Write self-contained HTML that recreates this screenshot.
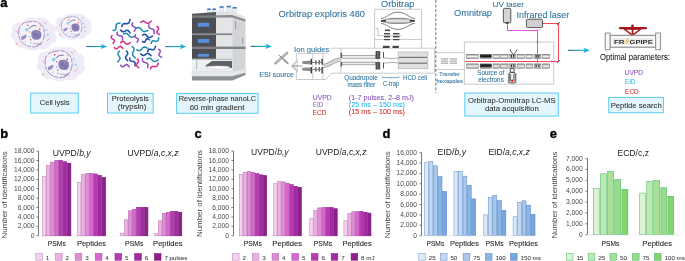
<!DOCTYPE html>
<html><head><meta charset="utf-8"><title>Figure</title>
<style>
html,body{margin:0;padding:0;background:#fff;width:685px;height:261px;overflow:hidden}
svg{display:block;will-change:transform;font-family:"Liberation Sans", sans-serif}
</style></head><body>
<svg width="685" height="261" viewBox="0 0 685 261">
<defs>
<linearGradient id="ag" x1="0" x2="1" y1="0" y2="0"><stop offset="0" stop-color="#1d6f8f"/><stop offset="1" stop-color="#19b2e6"/></linearGradient>
<linearGradient id="gl" x1="0" x2="0" y1="0" y2="1"><stop offset="0" stop-color="#8a8a8a"/><stop offset="0.5" stop-color="#f4f4f4"/><stop offset="1" stop-color="#9a9a9a"/></linearGradient>
<linearGradient id="gd" x1="0" x2="0" y1="0" y2="1"><stop offset="0" stop-color="#444"/><stop offset="0.5" stop-color="#111"/><stop offset="1" stop-color="#bbb"/></linearGradient>
<linearGradient id="gm" x1="0" x2="0" y1="0" y2="1"><stop offset="0" stop-color="#666"/><stop offset="0.5" stop-color="#333"/><stop offset="1" stop-color="#aaa"/></linearGradient>
<linearGradient id="gs" x1="0" x2="0" y1="0" y2="1"><stop offset="0" stop-color="#999"/><stop offset="0.5" stop-color="#f2f2f2"/><stop offset="1" stop-color="#999"/></linearGradient>
</defs>
<text x="0.2" y="6.7" font-size="13" fill="#000" stroke="#000" stroke-width="0.35" font-weight="bold">a</text>
<g transform="translate(33.8,33.8) scale(1.0)"><path d="M-21,-3 C-24,-9 -17,-13 -11,-12 C-8,-17 -1,-17 3,-15 C8,-18 15,-15 16,-10 C22,-10 24,-4 21,0 C25,4 22,10 17,10 C16,15 9,17 5,15 C1,18 -6,17 -9,14 C-14,16 -20,12 -19,7 C-24,5 -24,0 -21,-3 Z" fill="#f0ecf7"/><path d="M-15,-1 C-16,-8 -10,-12 -4,-12 C2,-14 9,-10 10,-4 C12,2 9,10 3,12.5 C-3,14.5 -12,11 -14,5 C-15,3 -15,1 -15,-1 Z" fill="#f4f1f9" stroke="#8576b6" stroke-width="0.75" stroke-dasharray="7 1.2 4 1"/><path d="M-2.5,1 C-3,-3 0,-4 3,-3.8 C6.5,-3.6 8,-1 7.6,2 C7.4,5 5,6.2 2,6 C-1,5.8 -2.3,4 -2.5,1 Z" fill="#8b80b4"/><circle cx="1.5" cy="0.5" r="1.6" fill="#6a5e98" opacity="0.5"/><circle cx="4.5" cy="3" r="1.3" fill="#6a5e98" opacity="0.4"/><circle cx="3.5" cy="-1.5" r="0.9" fill="#9d92c4"/><path d="M-5,-5 C-3,-8 0,-8.5 2.5,-8" stroke="#4e4180" stroke-width="0.8" fill="none"/><path d="M-12.8,3.2 L-8,0.8 L-7,2.2 L-8.5,4.6 L-12,6.4 Z" fill="#a596c8"/><path d="M-12.5,4 l4.5,-2.2 M-12,5.6 l4,-2" stroke="#8e7cb8" stroke-width="0.5"/><path d="M-1,9.5 C2,10.5 5,10.5 7,9" stroke="#8e7cb8" stroke-width="0.6" fill="none"/><circle cx="-7" cy="-4" r="1.7" fill="#8ed2ef"/><circle cx="-4" cy="3" r="0.9" fill="#8ed2ef"/><circle cx="14" cy="1" r="1.1" fill="#8ed2ef"/><circle cx="-3" cy="9" r="0.8" fill="#8ed2ef"/><circle cx="-8" cy="8" r="0.6" fill="#8ed2ef"/><circle cx="-6" cy="-8.5" r="0.75" fill="#e0483c"/><circle cx="6" cy="-4.5" r="0.8" fill="#e0483c"/><circle cx="-3" cy="6" r="0.7" fill="#e0483c"/><circle cx="6.5" cy="-8" r="1.1" fill="#f4c2b4"/><circle cx="-4" cy="-2" r="0.6" fill="#e0483c"/><circle cx="-17" cy="10" r="1.0" fill="#f2b0a0"/><circle cx="10" cy="-11" r="0.5" fill="#e88a9a"/><path d="M11,-10 L13,-12" stroke="#eea0ac" stroke-width="0.9" stroke-linecap="round"/><path d="M-18,-3 L-16,-1" stroke="#eea0ac" stroke-width="0.9" stroke-linecap="round"/><path d="M13,7 L15.5,5" stroke="#eea0ac" stroke-width="0.9" stroke-linecap="round"/><path d="M11,-5 L13.5,-3.5" stroke="#8ed2ef" stroke-width="0.9" stroke-linecap="round"/><path d="M3.5,11.5 L7,10.5" stroke="#9a86c0" stroke-width="0.9" stroke-linecap="round"/><path d="M-9,-11 L-7,-12" stroke="#eea0ac" stroke-width="0.9" stroke-linecap="round"/></g>
<g transform="translate(73.5,26.6) scale(0.8)"><path d="M-21,-3 C-24,-9 -17,-13 -11,-12 C-8,-17 -1,-17 3,-15 C8,-18 15,-15 16,-10 C22,-10 24,-4 21,0 C25,4 22,10 17,10 C16,15 9,17 5,15 C1,18 -6,17 -9,14 C-14,16 -20,12 -19,7 C-24,5 -24,0 -21,-3 Z" fill="#f0ecf7"/><path d="M-15,-1 C-16,-8 -10,-12 -4,-12 C2,-14 9,-10 10,-4 C12,2 9,10 3,12.5 C-3,14.5 -12,11 -14,5 C-15,3 -15,1 -15,-1 Z" fill="#f4f1f9" stroke="#8576b6" stroke-width="0.75" stroke-dasharray="7 1.2 4 1"/><path d="M-2.5,1 C-3,-3 0,-4 3,-3.8 C6.5,-3.6 8,-1 7.6,2 C7.4,5 5,6.2 2,6 C-1,5.8 -2.3,4 -2.5,1 Z" fill="#8b80b4"/><circle cx="1.5" cy="0.5" r="1.6" fill="#6a5e98" opacity="0.5"/><circle cx="4.5" cy="3" r="1.3" fill="#6a5e98" opacity="0.4"/><circle cx="3.5" cy="-1.5" r="0.9" fill="#9d92c4"/><path d="M-5,-5 C-3,-8 0,-8.5 2.5,-8" stroke="#4e4180" stroke-width="0.8" fill="none"/><path d="M-12.8,3.2 L-8,0.8 L-7,2.2 L-8.5,4.6 L-12,6.4 Z" fill="#a596c8"/><path d="M-12.5,4 l4.5,-2.2 M-12,5.6 l4,-2" stroke="#8e7cb8" stroke-width="0.5"/><path d="M-1,9.5 C2,10.5 5,10.5 7,9" stroke="#8e7cb8" stroke-width="0.6" fill="none"/><circle cx="-7" cy="-4" r="1.7" fill="#8ed2ef"/><circle cx="-4" cy="3" r="0.9" fill="#8ed2ef"/><circle cx="14" cy="1" r="1.1" fill="#8ed2ef"/><circle cx="-3" cy="9" r="0.8" fill="#8ed2ef"/><circle cx="-8" cy="8" r="0.6" fill="#8ed2ef"/><circle cx="-6" cy="-8.5" r="0.75" fill="#e0483c"/><circle cx="6" cy="-4.5" r="0.8" fill="#e0483c"/><circle cx="-3" cy="6" r="0.7" fill="#e0483c"/><circle cx="6.5" cy="-8" r="1.1" fill="#f4c2b4"/><circle cx="-4" cy="-2" r="0.6" fill="#e0483c"/><circle cx="-17" cy="10" r="1.0" fill="#f2b0a0"/><circle cx="10" cy="-11" r="0.5" fill="#e88a9a"/><path d="M11,-10 L13,-12" stroke="#eea0ac" stroke-width="0.9" stroke-linecap="round"/><path d="M-18,-3 L-16,-1" stroke="#eea0ac" stroke-width="0.9" stroke-linecap="round"/><path d="M13,7 L15.5,5" stroke="#eea0ac" stroke-width="0.9" stroke-linecap="round"/><path d="M11,-5 L13.5,-3.5" stroke="#8ed2ef" stroke-width="0.9" stroke-linecap="round"/><path d="M3.5,11.5 L7,10.5" stroke="#9a86c0" stroke-width="0.9" stroke-linecap="round"/><path d="M-9,-11 L-7,-12" stroke="#eea0ac" stroke-width="0.9" stroke-linecap="round"/></g>
<g transform="translate(61.0,63.8) scale(1.05)"><path d="M-21,-3 C-24,-9 -17,-13 -11,-12 C-8,-17 -1,-17 3,-15 C8,-18 15,-15 16,-10 C22,-10 24,-4 21,0 C25,4 22,10 17,10 C16,15 9,17 5,15 C1,18 -6,17 -9,14 C-14,16 -20,12 -19,7 C-24,5 -24,0 -21,-3 Z" fill="#f0ecf7"/><path d="M-15,-1 C-16,-8 -10,-12 -4,-12 C2,-14 9,-10 10,-4 C12,2 9,10 3,12.5 C-3,14.5 -12,11 -14,5 C-15,3 -15,1 -15,-1 Z" fill="#f4f1f9" stroke="#8576b6" stroke-width="0.75" stroke-dasharray="7 1.2 4 1"/><path d="M-2.5,1 C-3,-3 0,-4 3,-3.8 C6.5,-3.6 8,-1 7.6,2 C7.4,5 5,6.2 2,6 C-1,5.8 -2.3,4 -2.5,1 Z" fill="#8b80b4"/><circle cx="1.5" cy="0.5" r="1.6" fill="#6a5e98" opacity="0.5"/><circle cx="4.5" cy="3" r="1.3" fill="#6a5e98" opacity="0.4"/><circle cx="3.5" cy="-1.5" r="0.9" fill="#9d92c4"/><path d="M-5,-5 C-3,-8 0,-8.5 2.5,-8" stroke="#4e4180" stroke-width="0.8" fill="none"/><path d="M-12.8,3.2 L-8,0.8 L-7,2.2 L-8.5,4.6 L-12,6.4 Z" fill="#a596c8"/><path d="M-12.5,4 l4.5,-2.2 M-12,5.6 l4,-2" stroke="#8e7cb8" stroke-width="0.5"/><path d="M-1,9.5 C2,10.5 5,10.5 7,9" stroke="#8e7cb8" stroke-width="0.6" fill="none"/><circle cx="-7" cy="-4" r="1.7" fill="#8ed2ef"/><circle cx="-4" cy="3" r="0.9" fill="#8ed2ef"/><circle cx="14" cy="1" r="1.1" fill="#8ed2ef"/><circle cx="-3" cy="9" r="0.8" fill="#8ed2ef"/><circle cx="-8" cy="8" r="0.6" fill="#8ed2ef"/><circle cx="-6" cy="-8.5" r="0.75" fill="#e0483c"/><circle cx="6" cy="-4.5" r="0.8" fill="#e0483c"/><circle cx="-3" cy="6" r="0.7" fill="#e0483c"/><circle cx="6.5" cy="-8" r="1.1" fill="#f4c2b4"/><circle cx="-4" cy="-2" r="0.6" fill="#e0483c"/><circle cx="-17" cy="10" r="1.0" fill="#f2b0a0"/><circle cx="10" cy="-11" r="0.5" fill="#e88a9a"/><path d="M11,-10 L13,-12" stroke="#eea0ac" stroke-width="0.9" stroke-linecap="round"/><path d="M-18,-3 L-16,-1" stroke="#eea0ac" stroke-width="0.9" stroke-linecap="round"/><path d="M13,7 L15.5,5" stroke="#eea0ac" stroke-width="0.9" stroke-linecap="round"/><path d="M11,-5 L13.5,-3.5" stroke="#8ed2ef" stroke-width="0.9" stroke-linecap="round"/><path d="M3.5,11.5 L7,10.5" stroke="#9a86c0" stroke-width="0.9" stroke-linecap="round"/><path d="M-9,-11 L-7,-12" stroke="#eea0ac" stroke-width="0.9" stroke-linecap="round"/></g>
<rect x="86.1" y="45.95" width="16.10000000000001" height="1.1" fill="url(#ag)"/>
<path d="M100.7,43.9 L107.2,46.5 L100.7,49.1 L102.0,46.5 Z" fill="#1aaee0"/>
<rect x="165.2" y="46.050000000000004" width="16.200000000000017" height="1.1" fill="url(#ag)"/>
<path d="M179.9,44.0 L186.4,46.6 L179.9,49.2 L181.20000000000002,46.6 Z" fill="#1aaee0"/>
<rect x="250.5" y="45.85" width="16.399999999999977" height="1.1" fill="url(#ag)"/>
<path d="M265.4,43.8 L271.9,46.4 L265.4,49.0 L266.7,46.4 Z" fill="#1aaee0"/>
<rect x="568" y="49.75" width="16.899999999999977" height="1.1" fill="url(#ag)"/>
<path d="M583.4,47.699999999999996 L589.9,50.3 L583.4,52.9 L584.6999999999999,50.3 Z" fill="#1aaee0"/>
<path d="M113.20,30.50 L114.00,30.32 L114.73,30.09 L115.33,29.74 L115.74,29.26 L115.99,28.64 L116.08,27.90 L116.07,27.09 L116.05,26.26 L116.08,25.48 L116.23,24.79 L116.55,24.23 L117.05,23.81 L117.71,23.52 L118.48,23.32 L119.30,23.15 L120.08,22.95" stroke="#2a8db5" stroke-width="1.6" fill="none" stroke-linecap="round" stroke-linejoin="round"/>
<path d="M121.80,26.50 L122.03,25.68 L122.31,24.95 L122.70,24.35 L123.22,23.93 L123.87,23.69 L124.64,23.61 L125.48,23.63 L126.33,23.66 L127.14,23.64 L127.86,23.49 L128.45,23.18 L128.91,22.67 L129.24,22.01 L129.50,21.22 L129.72,20.40 L129.97,19.61" stroke="#2252a8" stroke-width="1.6" fill="none" stroke-linecap="round" stroke-linejoin="round"/>
<path d="M132.70,23.00 L132.34,23.64 L132.07,24.26 L131.98,24.83 L132.09,25.34 L132.42,25.79 L132.93,26.18 L133.57,26.54 L134.22,26.89 L134.81,27.27 L135.25,27.68 L135.48,28.15 L135.50,28.69 L135.31,29.29 L134.99,29.92 L134.62,30.57 L134.29,31.20" stroke="#9555c0" stroke-width="1.6" fill="none" stroke-linecap="round" stroke-linejoin="round"/>
<path d="M140.80,22.50 L141.42,21.94 L142.05,21.48 L142.68,21.19 L143.33,21.12 L143.99,21.27 L144.66,21.62 L145.34,22.09 L146.02,22.59 L146.70,23.01 L147.37,23.28 L148.02,23.33 L148.66,23.16 L149.29,22.79 L149.92,22.27 L150.54,21.69 L151.16,21.17" stroke="#d8358e" stroke-width="1.6" fill="none" stroke-linecap="round" stroke-linejoin="round"/>
<path d="M148.90,24.80 L148.82,25.63 L148.82,26.40 L148.97,27.08 L149.30,27.63 L149.81,28.06 L150.49,28.39 L151.27,28.64 L152.07,28.89 L152.81,29.17 L153.43,29.54 L153.86,30.02 L154.10,30.63 L154.18,31.36 L154.13,32.16 L154.04,33.00 L153.99,33.81" stroke="#9555c0" stroke-width="1.6" fill="none" stroke-linecap="round" stroke-linejoin="round"/>
<path d="M156.90,26.50 L157.52,26.90 L158.04,27.32 L158.40,27.77 L158.53,28.27 L158.45,28.82 L158.18,29.40 L157.79,30.01 L157.37,30.63 L157.03,31.23 L156.83,31.80 L156.85,32.33 L157.08,32.80 L157.52,33.24 L158.10,33.65 L158.73,34.04 L159.32,34.45" stroke="#d8358e" stroke-width="1.6" fill="none" stroke-linecap="round" stroke-linejoin="round"/>
<path d="M120.70,30.00 L121.19,30.65 L121.69,31.21 L122.24,31.60 L122.84,31.78 L123.49,31.73 L124.19,31.50 L124.91,31.15 L125.64,30.77 L126.35,30.47 L127.03,30.31 L127.66,30.37 L128.23,30.64 L128.76,31.12 L129.25,31.73 L129.74,32.39 L130.23,33.01" stroke="#2252a8" stroke-width="1.6" fill="none" stroke-linecap="round" stroke-linejoin="round"/>
<path d="M136.20,28.20 L137.05,27.87 L137.87,27.64 L138.65,27.58 L139.38,27.73 L140.05,28.10 L140.67,28.65 L141.27,29.33 L141.86,30.02 L142.46,30.65 L143.11,31.13 L143.80,31.40 L144.55,31.45 L145.35,31.31 L146.19,31.02 L147.04,30.68 L147.88,30.39" stroke="#2a8db5" stroke-width="1.6" fill="none" stroke-linecap="round" stroke-linejoin="round"/>
<path d="M117.20,32.30 L117.15,33.09 L117.18,33.81 L117.34,34.43 L117.68,34.91 L118.19,35.25 L118.86,35.48 L119.62,35.63 L120.40,35.76 L121.13,35.94 L121.73,36.21 L122.17,36.62 L122.43,37.16 L122.52,37.84 L122.50,38.59 L122.45,39.39 L122.42,40.15" stroke="#9555c0" stroke-width="1.6" fill="none" stroke-linecap="round" stroke-linejoin="round"/>
<path d="M123.50,34.00 L124.35,33.67 L125.17,33.44 L125.95,33.38 L126.68,33.53 L127.35,33.90 L127.97,34.45 L128.57,35.13 L129.16,35.82 L129.76,36.45 L130.41,36.93 L131.10,37.20 L131.85,37.25 L132.65,37.11 L133.49,36.82 L134.34,36.48 L135.18,36.19" stroke="#2a8db5" stroke-width="1.6" fill="none" stroke-linecap="round" stroke-linejoin="round"/>
<path d="M135.60,34.60 L135.24,35.22 L134.98,35.81 L134.88,36.34 L135.00,36.82 L135.33,37.22 L135.84,37.57 L136.47,37.88 L137.12,38.19 L137.70,38.51 L138.14,38.88 L138.37,39.32 L138.39,39.82 L138.21,40.38 L137.89,40.99 L137.52,41.61 L137.20,42.22" stroke="#9555c0" stroke-width="1.6" fill="none" stroke-linecap="round" stroke-linejoin="round"/>
<path d="M142.50,35.10 L143.21,34.70 L143.90,34.39 L144.55,34.25 L145.17,34.34 L145.75,34.64 L146.29,35.13 L146.81,35.74 L147.33,36.38 L147.86,36.95 L148.42,37.36 L149.01,37.57 L149.65,37.55 L150.32,37.32 L151.02,36.96 L151.73,36.55 L152.43,36.18" stroke="#2252a8" stroke-width="1.6" fill="none" stroke-linecap="round" stroke-linejoin="round"/>
<path d="M112.00,35.70 L111.60,36.29 L111.30,36.86 L111.17,37.39 L111.25,37.86 L111.55,38.29 L112.04,38.66 L112.64,39.02 L113.28,39.36 L113.84,39.72 L114.25,40.12 L114.45,40.56 L114.43,41.07 L114.21,41.61 L113.86,42.19 L113.45,42.79 L113.09,43.37" stroke="#d8358e" stroke-width="1.6" fill="none" stroke-linecap="round" stroke-linejoin="round"/>
<path d="M120.70,42.60 L121.34,42.12 L121.97,41.73 L122.59,41.51 L123.20,41.52 L123.80,41.75 L124.38,42.17 L124.95,42.72 L125.53,43.29 L126.10,43.78 L126.69,44.13 L127.29,44.26 L127.91,44.16 L128.53,43.86 L129.17,43.42 L129.81,42.92 L130.45,42.47" stroke="#d8358e" stroke-width="1.6" fill="none" stroke-linecap="round" stroke-linejoin="round"/>
<path d="M142.50,41.50 L143.10,41.85 L143.66,42.11 L144.17,42.21 L144.62,42.10 L144.98,41.77 L145.29,41.26 L145.57,40.63 L145.83,39.98 L146.11,39.40 L146.45,38.97 L146.85,38.73 L147.32,38.72 L147.86,38.90 L148.45,39.21 L149.05,39.58 L149.63,39.90" stroke="#2252a8" stroke-width="1.6" fill="none" stroke-linecap="round" stroke-linejoin="round"/>
<path d="M151.20,43.20 L151.44,42.46 L151.73,41.80 L152.10,41.29 L152.58,40.98 L153.18,40.86 L153.87,40.91 L154.63,41.06 L155.39,41.23 L156.12,41.35 L156.78,41.33 L157.32,41.12 L157.76,40.72 L158.09,40.13 L158.35,39.43 L158.58,38.68 L158.83,37.96" stroke="#2a8db5" stroke-width="1.6" fill="none" stroke-linecap="round" stroke-linejoin="round"/>
<path d="M114.30,47.60 L114.84,48.12 L115.39,48.55 L115.93,48.80 L116.47,48.83 L117.02,48.64 L117.56,48.25 L118.11,47.75 L118.65,47.21 L119.19,46.75 L119.74,46.45 L120.28,46.35 L120.83,46.49 L121.37,46.83 L121.91,47.31 L122.46,47.84 L123.00,48.33" stroke="#d8358e" stroke-width="1.6" fill="none" stroke-linecap="round" stroke-linejoin="round"/>
<path d="M132.20,46.50 L132.86,47.12 L133.42,47.75 L133.81,48.42 L133.99,49.13 L133.94,49.89 L133.70,50.68 L133.35,51.50 L132.97,52.33 L132.66,53.14 L132.51,53.91 L132.56,54.65 L132.83,55.34 L133.31,56.00 L133.93,56.62 L134.60,57.23 L135.22,57.86" stroke="#2a8db5" stroke-width="1.6" fill="none" stroke-linecap="round" stroke-linejoin="round"/>
<path d="M136.80,49.90 L137.59,50.27 L138.36,50.54 L139.09,50.65 L139.78,50.53 L140.42,50.20 L141.02,49.68 L141.60,49.04 L142.17,48.37 L142.76,47.78 L143.37,47.33 L144.04,47.10 L144.75,47.09 L145.50,47.27 L146.28,47.60 L147.07,47.98 L147.85,48.32" stroke="#2a8db5" stroke-width="1.6" fill="none" stroke-linecap="round" stroke-linejoin="round"/>
<path d="M147.70,51.60 L147.95,50.86 L148.24,50.20 L148.62,49.69 L149.12,49.38 L149.72,49.26 L150.41,49.31 L151.17,49.46 L151.94,49.64 L152.68,49.75 L153.33,49.73 L153.89,49.52 L154.33,49.12 L154.66,48.54 L154.93,47.83 L155.17,47.08 L155.44,46.36" stroke="#2252a8" stroke-width="1.6" fill="none" stroke-linecap="round" stroke-linejoin="round"/>
<path d="M119.50,51.00 L118.91,51.64 L118.42,52.28 L118.10,52.94 L118.00,53.63 L118.12,54.33 L118.44,55.06 L118.87,55.80 L119.33,56.54 L119.73,57.27 L119.96,57.99 L119.99,58.69 L119.78,59.36 L119.38,60.01 L118.83,60.65 L118.23,61.29 L117.67,61.93" stroke="#2a8db5" stroke-width="1.6" fill="none" stroke-linecap="round" stroke-linejoin="round"/>
<path d="M126.40,51.00 L126.96,51.58 L127.42,52.17 L127.71,52.76 L127.78,53.37 L127.62,54.00 L127.28,54.64 L126.81,55.28 L126.31,55.92 L125.89,56.56 L125.62,57.20 L125.57,57.81 L125.74,58.42 L126.12,59.01 L126.63,59.59 L127.21,60.17 L127.73,60.76" stroke="#2252a8" stroke-width="1.6" fill="none" stroke-linecap="round" stroke-linejoin="round"/>
<path d="M140.80,53.90 L141.39,54.49 L142.00,54.98 L142.62,55.30 L143.27,55.40 L143.94,55.28 L144.63,54.96 L145.33,54.53 L146.04,54.07 L146.74,53.67 L147.42,53.44 L148.08,53.41 L148.72,53.62 L149.33,54.02 L149.93,54.57 L150.52,55.17 L151.12,55.73" stroke="#2252a8" stroke-width="1.6" fill="none" stroke-linecap="round" stroke-linejoin="round"/>
<path d="M158.60,49.30 L159.25,49.66 L159.80,50.05 L160.19,50.49 L160.36,50.99 L160.32,51.55 L160.09,52.16 L159.75,52.80 L159.38,53.46 L159.08,54.09 L158.93,54.68 L158.98,55.21 L159.25,55.68 L159.72,56.09 L160.33,56.47 L160.99,56.83 L161.61,57.20" stroke="#9555c0" stroke-width="1.6" fill="none" stroke-linecap="round" stroke-linejoin="round"/>
<path d="M129.90,58.00 L129.84,58.78 L129.86,59.51 L130.02,60.12 L130.35,60.60 L130.86,60.95 L131.52,61.17 L132.28,61.33 L133.06,61.46 L133.78,61.64 L134.38,61.92 L134.81,62.33 L135.06,62.87 L135.14,63.54 L135.12,64.30 L135.05,65.09 L135.02,65.85" stroke="#2252a8" stroke-width="1.6" fill="none" stroke-linecap="round" stroke-linejoin="round"/>
<path d="M137.30,59.10 L137.86,59.60 L138.32,60.11 L138.61,60.63 L138.68,61.16 L138.52,61.72 L138.18,62.28 L137.71,62.85 L137.21,63.43 L136.79,64.00 L136.52,64.56 L136.47,65.10 L136.64,65.63 L137.02,66.14 L137.53,66.65 L138.11,67.15 L138.63,67.65" stroke="#d8358e" stroke-width="1.6" fill="none" stroke-linecap="round" stroke-linejoin="round"/>
<path d="M142.50,58.50 L142.43,59.33 L142.43,60.11 L142.59,60.80 L142.92,61.36 L143.45,61.80 L144.13,62.12 L144.92,62.39 L145.72,62.64 L146.47,62.92 L147.09,63.30 L147.53,63.79 L147.78,64.41 L147.86,65.14 L147.82,65.95 L147.73,66.79 L147.69,67.61" stroke="#9555c0" stroke-width="1.6" fill="none" stroke-linecap="round" stroke-linejoin="round"/>
<path d="M147.10,59.10 L147.86,58.69 L148.61,58.37 L149.33,58.23 L150.02,58.31 L150.67,58.60 L151.29,59.09 L151.89,59.70 L152.49,60.33 L153.10,60.89 L153.73,61.30 L154.40,61.50 L155.10,61.48 L155.84,61.25 L156.59,60.88 L157.36,60.45 L158.11,60.07" stroke="#2a8db5" stroke-width="1.6" fill="none" stroke-linecap="round" stroke-linejoin="round"/>
<path d="M120.70,65.40 L121.20,65.96 L121.71,66.42 L122.23,66.71 L122.76,66.78 L123.32,66.62 L123.88,66.28 L124.45,65.81 L125.03,65.31 L125.60,64.89 L126.16,64.62 L126.70,64.57 L127.23,64.74 L127.74,65.12 L128.25,65.63 L128.75,66.21 L129.25,66.73" stroke="#9555c0" stroke-width="1.6" fill="none" stroke-linecap="round" stroke-linejoin="round"/>
<path d="M150.60,68.90 L150.81,68.14 L151.08,67.45 L151.44,66.92 L151.93,66.56 L152.53,66.40 L153.24,66.40 L154.02,66.50 L154.81,66.62 L155.56,66.69 L156.23,66.62 L156.78,66.37 L157.21,65.93 L157.52,65.32 L157.76,64.59 L157.97,63.82 L158.20,63.08" stroke="#d8358e" stroke-width="1.6" fill="none" stroke-linecap="round" stroke-linejoin="round"/>

<g>
<!-- bottles -->
<g fill="#e6eef4" stroke="#b9c9d6" stroke-width="0.3">
<rect x="207" y="9.6" width="4" height="3.2"/><rect x="212.2" y="9.6" width="4" height="3.2"/>
<rect x="219.4" y="7.6" width="4.5" height="4.4"/><rect x="226.5" y="7.1" width="4.7" height="4.9"/><rect x="232.3" y="8.3" width="4.6" height="5.2"/>
</g>
<g fill="#3d70b5">
<rect x="207.2" y="8.4" width="3.6" height="1.5" rx="0.4"/><rect x="212.4" y="8.4" width="3.6" height="1.5" rx="0.4"/>
<rect x="219.6" y="6.2" width="4.1" height="1.6" rx="0.4"/><rect x="226.7" y="5.7" width="4.3" height="1.6" rx="0.4"/><rect x="232.5" y="6.9" width="4.2" height="1.6" rx="0.4"/>
</g>
<!-- roof -->
<polygon points="192,13.8 216.2,12.1 216.2,17.8 192,17.8" fill="#55585d"/>
<polygon points="192,15.6 216.2,15.2 216.2,17.8 192,17.8" fill="#7a7d82"/>
<polygon points="216.2,11.5 232.3,11.5 245.5,17 245.5,19.5 232.3,15 216.2,15.2" fill="#e2e3e5"/>
<polygon points="216.2,15.2 232.3,15 245.5,19.5 245.5,22 232.3,17.8 216.2,17.8" fill="#8a8c90"/>
<!-- faces -->
<rect x="192" y="17.8" width="24.2" height="41" fill="#4b4e53"/>
<rect x="216.2" y="17.8" width="16.1" height="41" fill="#e4e5e7"/>
<polygon points="232.3,17.8 245.5,22 245.5,71 232.3,71" fill="#d3d4d7"/>
<!-- module gaps -->
<rect x="192" y="33.3" width="40.3" height="1.8" fill="#8a8c90"/>
<rect x="192" y="46.6" width="53.5" height="2.4" fill="#7d8085"/>
<rect x="192" y="58.8" width="40.3" height="1" fill="#9a9ca0"/>
<!-- windows -->
<rect x="197.8" y="22.8" width="11.5" height="3.8" fill="#5a8fe0"/>
<rect x="197.8" y="39" width="11.5" height="3.8" fill="#5a8fe0"/>
<rect x="197.8" y="53.9" width="11.3" height="2.9" fill="#5a8fe0"/>
<!-- side slots -->
<rect x="235" y="21" width="1.2" height="8" fill="#a0a2a6"/>
<rect x="242" y="38" width="1.2" height="6" fill="#a0a2a6"/>
<!-- autosampler -->
<rect x="192" y="59.8" width="40.3" height="11.6" fill="#eeeff0"/>
<rect x="196" y="60" width="1.2" height="10" fill="#b0c8cc"/>
<polygon points="205,66 212,61 232,61 232,68 212,68" fill="#5c5f63"/>
<ellipse cx="218" cy="67.5" rx="12" ry="1.6" fill="#ffffff" stroke="#b8babd" stroke-width="0.5"/>
<!-- base -->
<polygon points="192,71.4 232.3,71.4 245.5,68.5 245.5,72.7 232.3,76.3 192,76.3" fill="#e6e7e9" stroke="#c8c9cc" stroke-width="0.4"/>
<polygon points="192,76.3 232.3,76.3 245.5,72.7 245.5,75 232.3,80.5 192,80.5" fill="#8c8f93"/>
</g>

<rect x="30.7" y="93.1" width="47.599999999999994" height="19.900000000000006" fill="#e4f6fd" stroke="#5ccbf2" stroke-width="1"/>
<text x="39.7" y="105.3" font-size="8" fill="#333" stroke="#333" stroke-width="0.08" textLength="29.9" lengthAdjust="spacingAndGlyphs">Cell lysis</text>
<rect x="107.5" y="93.3" width="45.69999999999999" height="19.700000000000003" fill="#e4f6fd" stroke="#5ccbf2" stroke-width="1"/>
<text x="111.7" y="101.1" font-size="8" fill="#333" stroke="#333" stroke-width="0.08" textLength="37.2" lengthAdjust="spacingAndGlyphs">Proteolysis</text>
<text x="117.8" y="109.2" font-size="8" fill="#333" stroke="#333" stroke-width="0.08" textLength="28.6" lengthAdjust="spacingAndGlyphs">(trypsin)</text>
<rect x="176.6" y="93.6" width="81.50000000000003" height="19.700000000000003" fill="#e4f6fd" stroke="#5ccbf2" stroke-width="1"/>
<text x="178.8" y="101.1" font-size="8" fill="#333" stroke="#333" stroke-width="0.08" textLength="77.3" lengthAdjust="spacingAndGlyphs">Reverse-phase nanoLC</text>
<text x="189.7" y="109.6" font-size="8" fill="#333" stroke="#333" stroke-width="0.08" textLength="54.8" lengthAdjust="spacingAndGlyphs">60 min gradient</text>
<rect x="464.8" y="93.0" width="93.49999999999994" height="23.099999999999994" fill="#e4f6fd" stroke="#5ccbf2" stroke-width="1"/>
<text x="468" y="103.3" font-size="8" fill="#333" stroke="#333" stroke-width="0.08" textLength="87.6" lengthAdjust="spacingAndGlyphs">Orbitrap-Omnitrap LC-MS</text>
<text x="484.9" y="110.6" font-size="8" fill="#333" stroke="#333" stroke-width="0.08" textLength="53.8" lengthAdjust="spacingAndGlyphs">data acquisition</text>
<rect x="608.7" y="97.4" width="54.69999999999993" height="15.299999999999997" fill="#e4f6fd" stroke="#5ccbf2" stroke-width="1"/>
<text x="610.7" y="108" font-size="8" fill="#333" stroke="#333" stroke-width="0.08" textLength="51" lengthAdjust="spacingAndGlyphs">Peptide search</text>
<text x="278.6" y="16.5" font-size="9.2" fill="#2f74a0" stroke="#2f74a0" stroke-width="0.08" textLength="86.4" lengthAdjust="spacingAndGlyphs">Orbitrap exploris 480</text>
<text x="381.1" y="6.6" font-size="8.4" fill="#2f74a0" stroke="#2f74a0" stroke-width="0.08" textLength="33.3" lengthAdjust="spacingAndGlyphs">Orbitrap</text>
<text x="454" y="16.4" font-size="9.2" fill="#2f74a0" stroke="#2f74a0" stroke-width="0.08" textLength="38" lengthAdjust="spacingAndGlyphs">Omnitrap</text>
<text x="492.5" y="6.9" font-size="8" fill="#2f74a0" stroke="#2f74a0" stroke-width="0.08" textLength="31.6" lengthAdjust="spacingAndGlyphs">UV laser</text>
<text x="516.5" y="17.9" font-size="9" fill="#2f74a0" stroke="#2f74a0" stroke-width="0.08" textLength="52.8" lengthAdjust="spacingAndGlyphs">Infrared laser</text>
<text x="294.1" y="51.5" font-size="7.5" fill="#2f74a0" stroke="#2f74a0" stroke-width="0.08" textLength="35.3" lengthAdjust="spacingAndGlyphs">Ion guides</text>
<text x="259.2" y="77.2" font-size="7.3" fill="#2f74a0" stroke="#2f74a0" stroke-width="0.08" textLength="34.9" lengthAdjust="spacingAndGlyphs">ESI source</text>
<text x="344.2" y="80" font-size="6.5" fill="#2f74a0" stroke="#2f74a0" stroke-width="0.08" textLength="33.7" lengthAdjust="spacingAndGlyphs">Quadrupole</text>
<text x="347.4" y="86.6" font-size="6.5" fill="#2f74a0" stroke="#2f74a0" stroke-width="0.08" textLength="28" lengthAdjust="spacingAndGlyphs">mass filter</text>
<text x="382.9" y="86.2" font-size="6.5" fill="#2f74a0" stroke="#2f74a0" stroke-width="0.08" textLength="16.3" lengthAdjust="spacingAndGlyphs">C-trap</text>
<text x="403" y="80" font-size="6.5" fill="#2f74a0" stroke="#2f74a0" stroke-width="0.08" textLength="24" lengthAdjust="spacingAndGlyphs">HCD cell</text>
<text x="439.3" y="76.2" font-size="5.8" fill="#2f74a0" stroke="#2f74a0" stroke-width="0.08" textLength="20.5" lengthAdjust="spacingAndGlyphs">Transfer</text>
<text x="436.6" y="82.5" font-size="5.8" fill="#2f74a0" stroke="#2f74a0" stroke-width="0.08" textLength="26.4" lengthAdjust="spacingAndGlyphs">hexapoles</text>
<text x="477.2" y="75.4" font-size="6.5" fill="#2f74a0" stroke="#2f74a0" stroke-width="0.08" textLength="27.2" lengthAdjust="spacingAndGlyphs">Source of</text>
<text x="478.2" y="82" font-size="6.5" fill="#2f74a0" stroke="#2f74a0" stroke-width="0.08" textLength="25.6" lengthAdjust="spacingAndGlyphs">electrons</text>
<text x="312.8" y="100" font-size="7.3" fill="#8b52c2" stroke="#8b52c2" stroke-width="0.08" textLength="19" lengthAdjust="spacingAndGlyphs">UVPD</text>
<text x="312.8" y="107.3" font-size="7.3" fill="#9a62cc" stroke="#9a62cc" stroke-width="0.08" textLength="10.6" lengthAdjust="spacingAndGlyphs">EID</text>
<text x="312.8" y="114.9" font-size="7.3" fill="#cc3030" stroke="#cc3030" stroke-width="0.08" textLength="13.5" lengthAdjust="spacingAndGlyphs">ECD</text>
<text x="348.8" y="99.8" font-size="7.3" fill="#8b52c2" stroke="#8b52c2" stroke-width="0.08" textLength="65.2" lengthAdjust="spacingAndGlyphs">(1-7 pulses, 2–8 mJ)</text>
<text x="348.8" y="107.1" font-size="7.3" fill="#29b6ec" stroke="#29b6ec" stroke-width="0.08" textLength="56.2" lengthAdjust="spacingAndGlyphs">(25 ms – 150 ms)</text>
<text x="348.8" y="114.4" font-size="7.3" fill="#cc3030" stroke="#cc3030" stroke-width="0.08" textLength="56.2" lengthAdjust="spacingAndGlyphs">(15 ms – 100 ms)</text>
<text x="600" y="59.5" font-size="8.5" fill="#222" stroke="#222" stroke-width="0.08" textLength="69.9" lengthAdjust="spacingAndGlyphs">Optimal parameters:</text>
<text x="624.6" y="74.9" font-size="7.3" fill="#8b52c2" stroke="#8b52c2" stroke-width="0.08" textLength="18.4" lengthAdjust="spacingAndGlyphs">UVPD</text>
<text x="625.1" y="84.1" font-size="7.3" fill="#29b6ec" stroke="#29b6ec" stroke-width="0.08" textLength="10.3" lengthAdjust="spacingAndGlyphs">EID</text>
<text x="625.1" y="93.6" font-size="7.3" fill="#cc3030" stroke="#cc3030" stroke-width="0.08" textLength="13.6" lengthAdjust="spacingAndGlyphs">ECD</text>

<g fill="none" stroke="#b5b5b5" stroke-width="0.7">
<!-- ESI needle -->
<path d="M275.5,63.3 L287,53" stroke="#a8a8a8" stroke-width="2.6" stroke-linecap="round"/><path d="M276,62.5 L286.5,53.2" stroke="#d8d8d8" stroke-width="0.7"/><path d="M278.5,54.8 L288.6,64" stroke="#777" stroke-width="0.9"/><path d="M283,59 L288,63.5" stroke="#999" stroke-width="1.8"/>
<!-- left chamber -->
<path d="M296.4,60 L296.4,53.4 L326,53.4 L331.4,48.2 L434.5,48.2 L434.5,73.2 L331.4,73.2 L326,79.5 L296.4,79.5 L296.4,72"/>
<path d="M312.7,53.4 V79.5 M323,53.4 V79.5 M341,48.2 V73.2"/>
<path d="M436,52.6 H464.4 M436,69.5 H464.4"/>
<!-- orbitrap box -->
<path d="M374.6,48.2 V9.3 H421.5 V48.2 M374.6,39.5 H421.5"/>
<path d="M375.5,28.4 H378 V35.6 H401.4" stroke-width="0.6" stroke="#999"/>
<!-- omnitrap box -->
<path d="M464.4,42.1 H553.7 V84.2 H464.4 Z"/>
</g>
<!-- ESI cone -->
<path d="M297.4,59.9 L291.2,66 L297.4,72.3 Z" fill="#d0d0d0" stroke="#aaa" stroke-width="0.5"/>
<path d="M297.4,62 L293.5,66 L297.4,70" fill="#eee"/>
<path d="M292,66 H302.5" stroke="#666" stroke-width="0.6"/>
<!-- ion optics -->
<polygon points="302.3,61.2 310.7,60.6 310.7,64.4 302.3,63.8" fill="#8a8a8a"/>
<polygon points="302.3,67.8 310.7,67.4 310.7,71.2 302.3,70.6" fill="#8a8a8a"/>
<rect x="310.6" y="58.8" width="1.4" height="5.8" fill="#3a3a3a"/><rect x="310.6" y="67" width="1.4" height="6.4" fill="#3a3a3a"/>
<rect x="315.3" y="60.2" width="1.2" height="4.4" fill="#444"/><rect x="315.3" y="67" width="1.2" height="4.6" fill="#444"/>
<rect x="318.6" y="60.2" width="1.2" height="4.4" fill="#444"/><rect x="318.6" y="67" width="1.2" height="4.6" fill="#444"/>
<rect x="321.4" y="58.8" width="1.4" height="5.8" fill="#3a3a3a"/><rect x="321.4" y="67" width="1.4" height="6.4" fill="#3a3a3a"/>
<path d="M312,62.5 H321 M312,69.5 H321" stroke="#777" stroke-width="0.9"/>
<!-- bent guide -->
<path d="M322.8,66 C331,66 333,59.3 341,59.3" stroke="#a8a8a8" stroke-width="4.2" fill="none"/>
<path d="M322.8,66 C331,66 333,59.3 341,59.3" stroke="#e8e8e8" stroke-width="2.2" fill="none"/>
<path d="M322.8,66 C331,66 333,59.3 341,59.3" stroke="#b8b8b8" stroke-width="0.6" fill="none"/>
<!-- quadrupole -->
<rect x="340.6" y="52.7" width="1.4" height="5.2" fill="#555"/><rect x="340.6" y="62" width="1.4" height="4.6" fill="#555"/>
<rect x="342" y="55.6" width="33.6" height="2.6" fill="#eee" stroke="#7a7a7a" stroke-width="0.6"/>
<rect x="342" y="62.2" width="33.6" height="2.6" fill="#eee" stroke="#7a7a7a" stroke-width="0.6"/>
<path d="M345,59 H375 M345,61.3 H375" stroke="#ccc" stroke-width="0.5"/>
<rect x="375.6" y="51" width="4.6" height="8" fill="#4a4a4a"/><rect x="375.6" y="62" width="4.6" height="7.5" fill="#4a4a4a"/>
<rect x="377.6" y="51" width="0.7" height="18.5" fill="#999"/>
<rect x="383" y="52" width="0.9" height="6" fill="#444"/><rect x="383" y="62.5" width="0.9" height="6" fill="#444"/>
<!-- c-trap curves -->
<path d="M384,58 C390,58 392,59.5 398.2,57.8" stroke="#999" stroke-width="0.8" fill="none"/>
<path d="M384,63 C390,63 392,61.5 398.2,63.2" stroke="#999" stroke-width="0.8" fill="none"/>
<!-- HCD -->
<rect x="398.2" y="52" width="29.7" height="16.8" fill="#e0e0e0" stroke="#aaa" stroke-width="0.6"/>
<rect x="399" y="56.8" width="28" height="1.2" fill="#777"/>
<rect x="399" y="62.6" width="28" height="1.2" fill="#777"/>
<!-- orbitrap lenses -->
<rect x="382.9" y="45.8" width="6.7" height="2.2" fill="#444"/>
<rect x="392.5" y="45.8" width="6.3" height="2.2" fill="#444"/>
<rect x="385" y="29.5" width="5" height="1.6" fill="#444"/>
<rect x="384" y="33" width="6" height="1.4" fill="#444"/><rect x="393" y="33" width="6.5" height="1.4" fill="#444"/>
<rect x="384" y="36" width="6" height="1.4" fill="#444"/><rect x="393" y="36" width="6.5" height="1.4" fill="#444"/>
<rect x="384" y="39" width="6" height="1.2" fill="#444"/><rect x="393" y="39" width="6.5" height="1.2" fill="#444"/>
<!-- orbitrap spindle -->
<path d="M381,18.5 C386,18.5 390,12.2 397.9,12.2 C405.8,12.2 409.8,18.5 414.8,18.5" stroke="#7a7a7a" stroke-width="1" fill="none"/>
<path d="M381,23.4 C386,23.4 390,29.4 397.9,29.4 C405.8,29.4 409.8,23.4 414.8,23.4" stroke="#7a7a7a" stroke-width="1" fill="none"/>
<path d="M381,20.9 C388,18 393,18.3 397.9,18.3 C402.8,18.3 407.8,18 414.8,20.9 C407.8,23.8 402.8,23.5 397.9,23.5 C393,23.5 388,23.8 381,20.9 Z" fill="url(#gs)" stroke="#555" stroke-width="0.5"/>
<path d="M381,20.9 H386 M409.8,20.9 H414.8" stroke="#444" stroke-width="1.6"/>
<!-- C-trap bracket -->
<path d="M382.5,76.2 V77.6 H398.8 V76.2 M390.6,77.6 V78.6" stroke="#2f74a0" stroke-width="0.6" fill="none"/>
<!-- hexapoles -->
<g fill="#9a9a9a">
<rect x="440.8" y="58.4" width="7.4" height="1"/><rect x="440.8" y="60.6" width="7.4" height="1"/><rect x="440.8" y="62.7" width="7.4" height="1"/>
<rect x="449.7" y="58.4" width="7.3" height="1"/><rect x="449.7" y="60.6" width="7.3" height="1"/><rect x="449.7" y="62.7" width="7.3" height="1"/>
</g>
<!-- dashed line -->
<path d="M435.8,0 V92.7" stroke="#3579aa" stroke-width="1" stroke-dasharray="2.8 1.8"/>

<rect x="466.7" y="54.3" width="11.5" height="4.2" fill="url(#gl)" stroke="#555" stroke-width="0.4"/>
<rect x="480.1" y="54.3" width="11.5" height="4.2" fill="url(#gd)" stroke="#555" stroke-width="0.4"/>
<rect x="493" y="54.3" width="6.300000000000011" height="4.2" fill="url(#gl)" stroke="#555" stroke-width="0.4"/>
<rect x="500.6" y="54.3" width="7.2999999999999545" height="4.2" fill="url(#gl)" stroke="#555" stroke-width="0.4"/>
<rect x="509" y="54.3" width="7" height="4.2" fill="url(#gl)" stroke="#555" stroke-width="0.4"/>
<rect x="517.5" y="54.3" width="7.0" height="4.2" fill="url(#gl)" stroke="#555" stroke-width="0.4"/>
<rect x="526" y="54.3" width="6.5" height="4.2" fill="url(#gl)" stroke="#555" stroke-width="0.4"/>
<rect x="534" y="54.3" width="7" height="4.2" fill="url(#gl)" stroke="#555" stroke-width="0.4"/>
<rect x="542.5" y="54.3" width="7.2999999999999545" height="4.2" fill="url(#gl)" stroke="#555" stroke-width="0.4"/>
<rect x="466.7" y="63.9" width="11.5" height="4.3" fill="url(#gl)" stroke="#555" stroke-width="0.4"/>
<rect x="480.1" y="63.9" width="11.5" height="4.3" fill="url(#gd)" stroke="#555" stroke-width="0.4"/>
<rect x="493" y="63.9" width="6.300000000000011" height="4.3" fill="url(#gl)" stroke="#555" stroke-width="0.4"/>
<rect x="500.6" y="63.9" width="7.2999999999999545" height="4.3" fill="url(#gl)" stroke="#555" stroke-width="0.4"/>
<rect x="509" y="63.9" width="7" height="4.3" fill="url(#gl)" stroke="#555" stroke-width="0.4"/>
<rect x="517.5" y="63.9" width="7.0" height="4.3" fill="url(#gl)" stroke="#555" stroke-width="0.4"/>
<rect x="526" y="63.9" width="6.5" height="4.3" fill="url(#gl)" stroke="#555" stroke-width="0.4"/>
<rect x="534" y="63.9" width="7" height="4.3" fill="url(#gl)" stroke="#555" stroke-width="0.4"/>
<rect x="542.5" y="63.9" width="7.2999999999999545" height="4.3" fill="url(#gl)" stroke="#555" stroke-width="0.4"/>
<path d="M465,61.5 H558.5 V23.5 H542.5" stroke="#f24a5a" stroke-width="1" fill="none"/>
<path d="M557,24.8 L559.8,22.2 M557,62.8 L559.8,60.2" stroke="#333" stroke-width="0.9"/><path d="M551.5,60 V63 M554.8,60 V63" stroke="#e070e0" stroke-width="0.6"/>
<path d="M507.5,23 V30.5 H537.5 V62.8" stroke="#de52de" stroke-width="1" fill="none"/>
<path d="M535.5,42 H539.8 M535.5,29.9 H539.8" stroke="#e060e0" stroke-width="0.6"/>
<rect x="503.4" y="8.4" width="7.4" height="14.3" rx="1" fill="#d4d4d6" stroke="#333" stroke-width="0.8"/>
<rect x="505.5" y="22.2" width="3.2" height="1.4" fill="#333"/>
<rect x="526.4" y="19.2" width="16.1" height="8.4" rx="1.2" fill="#d0d0d2" stroke="#333" stroke-width="0.8"/>
<path d="M510,49.5 C511,52 512,53 513.6,54.4 M517,49.5 C516,52 515,53 513.4,54.4" stroke="#222" stroke-width="0.8" fill="none"/>
<g><rect x="509.2" y="72.5" width="6" height="10.5" rx="1.2" fill="#f2f2f2" stroke="#222" stroke-width="0.8"/><circle cx="512.2" cy="70.4" r="2.1" fill="#fff" stroke="#222" stroke-width="0.8"/><path d="M510.6,74 V81 M513.8,74 V81" stroke="#444" stroke-width="0.7"/><circle cx="512.2" cy="80.8" r="1.2" fill="#e02020"/><path d="M508.3,73.5 V83 M516.1,73.5 V83" stroke="#333" stroke-width="0.7" stroke-dasharray="1 0.7"/></g>
<g fill="#333"><rect x="510.8" y="55" width="1.3" height="2.6"/><rect x="513.2" y="55" width="1.3" height="2.6"/><rect x="510.8" y="64.6" width="1.3" height="2.6"/><rect x="513.2" y="64.6" width="1.3" height="2.6"/><rect x="535.5" y="55" width="1.3" height="2.6"/><rect x="538.2" y="55" width="1.3" height="2.6"/><rect x="535.5" y="64.6" width="1.3" height="2.6"/><rect x="538.2" y="64.6" width="1.3" height="2.6"/></g>

<g>
<polygon points="622.5,28.6 642.5,28.6 633.6,35.4 631.4,35.4" fill="#a3171c"/>
<polygon points="626.2,29.8 638.8,29.8 633.2,33.8 631.8,33.8" fill="#ffffff"/>
<rect x="631.7" y="26.5" width="1.7" height="8.8" fill="#a3171c"/>
<rect x="618.9" y="27.1" width="28.1" height="2.2" rx="1.1" fill="#a3171c"/>
<circle cx="632.5" cy="25.9" r="1.4" fill="#a3171c"/>
<rect x="610" y="35.4" width="45.7" height="11.8" fill="#fdfdfd" stroke="#9c9c9c" stroke-width="1.4"/>
<rect x="612.5" y="38.3" width="41" height="6.4" fill="#e9e9e9"/>
<rect x="605.3" y="33" width="4.7" height="16.8" fill="#f6f6f6" stroke="#8a8a8a" stroke-width="0.9"/>
<rect x="655.7" y="33" width="4.7" height="16.8" fill="#f6f6f6" stroke="#8a8a8a" stroke-width="0.9"/>
<path d="M604.3,35 h1 M604.3,37.5 h1 M604.3,40 h1 M604.3,42.5 h1 M604.3,45 h1 M604.3,47.5 h1 M660.4,35 h1 M660.4,37.5 h1 M660.4,40 h1 M660.4,42.5 h1 M660.4,45 h1 M660.4,47.5 h1" stroke="#999" stroke-width="0.6"/>
</g>

<text x="614" y="44.2" font-size="6" font-weight="bold" fill="#333" textLength="10.5" lengthAdjust="spacingAndGlyphs">FR</text>
<text x="629.5" y="44.2" font-size="6" font-weight="bold" fill="#333" textLength="23.2" lengthAdjust="spacingAndGlyphs">GPIPE</text>
<path d="M627.6,38.6 L625.2,41.7 L626.9,41.7 L625.6,44.8 L628.9,40.8 L627.1,40.8 L628.6,38.6 Z" fill="#f2b81a"/>
<text x="0.3" y="138.3" font-size="13" fill="#000" stroke="#000" stroke-width="0.35" font-weight="bold">b</text>
<path d="M38.5,151.1 V235.8" stroke="#555" stroke-width="0.8"/>
<path d="M36.3,235.80 H38.5" stroke="#555" stroke-width="0.7"/>
<text x="34.4" y="237.80" font-size="6.7" fill="#4a4a4a" text-anchor="end">0</text>
<path d="M36.3,226.39 H38.5" stroke="#555" stroke-width="0.7"/>
<text x="34.4" y="228.39" font-size="6.7" fill="#4a4a4a" text-anchor="end">2,000</text>
<path d="M36.3,216.98 H38.5" stroke="#555" stroke-width="0.7"/>
<text x="34.4" y="218.98" font-size="6.7" fill="#4a4a4a" text-anchor="end">4,000</text>
<path d="M36.3,207.56 H38.5" stroke="#555" stroke-width="0.7"/>
<text x="34.4" y="209.56" font-size="6.7" fill="#4a4a4a" text-anchor="end">6,000</text>
<path d="M36.3,198.15 H38.5" stroke="#555" stroke-width="0.7"/>
<text x="34.4" y="200.15" font-size="6.7" fill="#4a4a4a" text-anchor="end">8,000</text>
<path d="M36.3,188.74 H38.5" stroke="#555" stroke-width="0.7"/>
<text x="34.4" y="190.74" font-size="6.7" fill="#4a4a4a" text-anchor="end">10,000</text>
<path d="M36.3,179.33 H38.5" stroke="#555" stroke-width="0.7"/>
<text x="34.4" y="181.33" font-size="6.7" fill="#4a4a4a" text-anchor="end">12,000</text>
<path d="M36.3,169.92 H38.5" stroke="#555" stroke-width="0.7"/>
<text x="34.4" y="171.92" font-size="6.7" fill="#4a4a4a" text-anchor="end">14,000</text>
<path d="M36.3,160.50 H38.5" stroke="#555" stroke-width="0.7"/>
<text x="34.4" y="162.50" font-size="6.7" fill="#4a4a4a" text-anchor="end">16,000</text>
<path d="M36.3,151.09 H38.5" stroke="#555" stroke-width="0.7"/>
<text x="34.4" y="153.09" font-size="6.7" fill="#4a4a4a" text-anchor="end">18,000</text>
<text transform="translate(6.9,194.9) rotate(-90)" x="0" y="0" font-size="7.8" fill="#444" text-anchor="middle" textLength="87" lengthAdjust="spacingAndGlyphs">Number of identifications</text>
<path d="M38.3,236 H183" stroke="#e6e6e6" stroke-width="0.5"/>
<rect x="42.30" y="176.33" width="3.57" height="59.47" fill="#f4d3ee" stroke="#c58bc0" stroke-width="0.6"/>
<rect x="46.47" y="165.51" width="3.57" height="70.29" fill="#ebb2e3" stroke="#c47dbc" stroke-width="0.6"/>
<rect x="50.64" y="162.22" width="3.57" height="73.58" fill="#dd8fd3" stroke="#b866b0" stroke-width="0.6"/>
<rect x="54.81" y="160.33" width="3.57" height="75.47" fill="#d868cb" stroke="#b04ab0" stroke-width="0.6"/>
<rect x="58.98" y="160.33" width="3.57" height="75.47" fill="#b93bb2" stroke="#962a94" stroke-width="0.6"/>
<rect x="63.15" y="161.75" width="3.57" height="74.05" fill="#a32aa0" stroke="#85208a" stroke-width="0.6"/>
<rect x="67.32" y="163.16" width="3.57" height="72.64" fill="#8f1f8b" stroke="#741a74" stroke-width="0.6"/>
<rect x="77.50" y="182.45" width="3.50" height="53.35" fill="#f4d3ee" stroke="#c58bc0" stroke-width="0.6"/>
<rect x="81.60" y="174.45" width="3.50" height="61.35" fill="#ebb2e3" stroke="#c47dbc" stroke-width="0.6"/>
<rect x="85.70" y="173.51" width="3.50" height="62.29" fill="#dd8fd3" stroke="#b866b0" stroke-width="0.6"/>
<rect x="89.80" y="173.51" width="3.50" height="62.29" fill="#d868cb" stroke="#b04ab0" stroke-width="0.6"/>
<rect x="93.90" y="173.98" width="3.50" height="61.82" fill="#b93bb2" stroke="#962a94" stroke-width="0.6"/>
<rect x="98.00" y="175.39" width="3.50" height="60.41" fill="#a32aa0" stroke="#85208a" stroke-width="0.6"/>
<rect x="102.10" y="177.28" width="3.50" height="58.52" fill="#8f1f8b" stroke="#741a74" stroke-width="0.6"/>
<rect x="120.50" y="233.20" width="3.40" height="2.60" fill="#f4d3ee" stroke="#c58bc0" stroke-width="0.6"/>
<rect x="124.50" y="219.80" width="3.40" height="16.00" fill="#ebb2e3" stroke="#c47dbc" stroke-width="0.6"/>
<rect x="128.50" y="210.80" width="3.40" height="25.00" fill="#dd8fd3" stroke="#b866b0" stroke-width="0.6"/>
<rect x="132.50" y="209.40" width="3.40" height="26.40" fill="#d868cb" stroke="#b04ab0" stroke-width="0.6"/>
<rect x="136.50" y="207.40" width="3.40" height="28.40" fill="#b93bb2" stroke="#962a94" stroke-width="0.6"/>
<rect x="140.50" y="207.40" width="3.40" height="28.40" fill="#a32aa0" stroke="#85208a" stroke-width="0.6"/>
<rect x="144.50" y="207.40" width="3.40" height="28.40" fill="#8f1f8b" stroke="#741a74" stroke-width="0.6"/>
<rect x="154.40" y="233.60" width="3.40" height="2.20" fill="#f4d3ee" stroke="#c58bc0" stroke-width="0.6"/>
<rect x="158.40" y="220.80" width="3.40" height="15.00" fill="#ebb2e3" stroke="#c47dbc" stroke-width="0.6"/>
<rect x="162.40" y="213.40" width="3.40" height="22.40" fill="#dd8fd3" stroke="#b866b0" stroke-width="0.6"/>
<rect x="166.40" y="212.50" width="3.40" height="23.30" fill="#d868cb" stroke="#b04ab0" stroke-width="0.6"/>
<rect x="170.40" y="211.30" width="3.40" height="24.50" fill="#b93bb2" stroke="#962a94" stroke-width="0.6"/>
<rect x="174.40" y="211.30" width="3.40" height="24.50" fill="#a32aa0" stroke="#85208a" stroke-width="0.6"/>
<rect x="178.40" y="212.20" width="3.40" height="23.60" fill="#8f1f8b" stroke="#741a74" stroke-width="0.6"/>
<text x="52.7" y="155.7" font-size="9.5" fill="#222" textLength="38" lengthAdjust="spacingAndGlyphs">UVPD/<tspan font-style="italic">b,y</tspan></text>
<text x="127.5" y="155.7" font-size="9.5" fill="#222" textLength="51.1" lengthAdjust="spacingAndGlyphs">UVPD/<tspan font-style="italic">a,c,x,z</tspan></text>
<text x="47.7" y="245.7" font-size="7.2" fill="#1e1e1e" stroke="#1e1e1e" stroke-width="0.08" textLength="18.2" lengthAdjust="spacingAndGlyphs">PSMs</text>
<text x="76.9" y="245.7" font-size="7.2" fill="#1e1e1e" stroke="#1e1e1e" stroke-width="0.08" textLength="29.2" lengthAdjust="spacingAndGlyphs">Peptides</text>
<text x="125.1" y="245.7" font-size="7.2" fill="#1e1e1e" stroke="#1e1e1e" stroke-width="0.08" textLength="18.2" lengthAdjust="spacingAndGlyphs">PSMs</text>
<text x="153.1" y="245.7" font-size="7.2" fill="#1e1e1e" stroke="#1e1e1e" stroke-width="0.08" textLength="29.5" lengthAdjust="spacingAndGlyphs">Peptides</text>
<rect x="35.8" y="253.60000000000002" width="6.6" height="6.6" fill="#f4d3ee" stroke="#c58bc0" stroke-width="0.6"/>
<text x="45.8" y="259.7" font-size="6.2" fill="#444" stroke="#444" stroke-width="0.08">1</text>
<rect x="55.5" y="253.60000000000002" width="6.6" height="6.6" fill="#ebb2e3" stroke="#c47dbc" stroke-width="0.6"/>
<text x="65.5" y="259.7" font-size="6.2" fill="#444" stroke="#444" stroke-width="0.08">2</text>
<rect x="75.2" y="253.60000000000002" width="6.6" height="6.6" fill="#dd8fd3" stroke="#b866b0" stroke-width="0.6"/>
<text x="85.2" y="259.7" font-size="6.2" fill="#444" stroke="#444" stroke-width="0.08">3</text>
<rect x="95.3" y="253.60000000000002" width="6.6" height="6.6" fill="#d868cb" stroke="#b04ab0" stroke-width="0.6"/>
<text x="105.3" y="259.7" font-size="6.2" fill="#444" stroke="#444" stroke-width="0.08">4</text>
<rect x="115.0" y="253.60000000000002" width="6.6" height="6.6" fill="#b93bb2" stroke="#962a94" stroke-width="0.6"/>
<text x="125.0" y="259.7" font-size="6.2" fill="#444" stroke="#444" stroke-width="0.08">5</text>
<rect x="134.70000000000002" y="253.60000000000002" width="6.6" height="6.6" fill="#a32aa0" stroke="#85208a" stroke-width="0.6"/>
<text x="144.70000000000002" y="259.7" font-size="6.2" fill="#444" stroke="#444" stroke-width="0.08">6</text>
<rect x="154.4" y="253.60000000000002" width="6.6" height="6.6" fill="#8f1f8b" stroke="#741a74" stroke-width="0.6"/>
<text x="164.4" y="259.7" font-size="6.2" fill="#444" stroke="#444" stroke-width="0.08">7 pulses</text>
<text x="194.5" y="138.1" font-size="13" fill="#000" stroke="#000" stroke-width="0.35" font-weight="bold">c</text>
<path d="M233.5,151.2 V235.8" stroke="#555" stroke-width="0.8"/>
<path d="M231.3,235.80 H233.5" stroke="#555" stroke-width="0.7"/>
<text x="229.0" y="237.80" font-size="6.7" fill="#4a4a4a" text-anchor="end">0</text>
<path d="M231.3,226.39 H233.5" stroke="#555" stroke-width="0.7"/>
<text x="229.0" y="228.39" font-size="6.7" fill="#4a4a4a" text-anchor="end">2,000</text>
<path d="M231.3,216.98 H233.5" stroke="#555" stroke-width="0.7"/>
<text x="229.0" y="218.98" font-size="6.7" fill="#4a4a4a" text-anchor="end">4,000</text>
<path d="M231.3,207.56 H233.5" stroke="#555" stroke-width="0.7"/>
<text x="229.0" y="209.56" font-size="6.7" fill="#4a4a4a" text-anchor="end">6,000</text>
<path d="M231.3,198.15 H233.5" stroke="#555" stroke-width="0.7"/>
<text x="229.0" y="200.15" font-size="6.7" fill="#4a4a4a" text-anchor="end">8,000</text>
<path d="M231.3,188.74 H233.5" stroke="#555" stroke-width="0.7"/>
<text x="229.0" y="190.74" font-size="6.7" fill="#4a4a4a" text-anchor="end">10,000</text>
<path d="M231.3,179.33 H233.5" stroke="#555" stroke-width="0.7"/>
<text x="229.0" y="181.33" font-size="6.7" fill="#4a4a4a" text-anchor="end">12,000</text>
<path d="M231.3,169.92 H233.5" stroke="#555" stroke-width="0.7"/>
<text x="229.0" y="171.92" font-size="6.7" fill="#4a4a4a" text-anchor="end">14,000</text>
<path d="M231.3,160.50 H233.5" stroke="#555" stroke-width="0.7"/>
<text x="229.0" y="162.50" font-size="6.7" fill="#4a4a4a" text-anchor="end">16,000</text>
<path d="M231.3,151.09 H233.5" stroke="#555" stroke-width="0.7"/>
<text x="229.0" y="153.09" font-size="6.7" fill="#4a4a4a" text-anchor="end">18,000</text>
<text transform="translate(202.2,193.5) rotate(-90)" x="0" y="0" font-size="7.8" fill="#444" text-anchor="middle" textLength="87" lengthAdjust="spacingAndGlyphs">Number of identifications</text>
<path d="M233.1,236 H372" stroke="#e6e6e6" stroke-width="0.5"/>
<rect x="239.30" y="174.40" width="3.40" height="61.40" fill="#f4d3ee" stroke="#c58bc0" stroke-width="0.6"/>
<rect x="243.30" y="172.20" width="3.40" height="63.60" fill="#ebb2e3" stroke="#c47dbc" stroke-width="0.6"/>
<rect x="247.30" y="171.70" width="3.40" height="64.10" fill="#dd8fd3" stroke="#b866b0" stroke-width="0.6"/>
<rect x="251.30" y="172.50" width="3.40" height="63.30" fill="#d868cb" stroke="#b04ab0" stroke-width="0.6"/>
<rect x="255.30" y="173.60" width="3.40" height="62.20" fill="#b93bb2" stroke="#962a94" stroke-width="0.6"/>
<rect x="259.30" y="174.80" width="3.40" height="61.00" fill="#a32aa0" stroke="#85208a" stroke-width="0.6"/>
<rect x="263.30" y="175.50" width="3.40" height="60.30" fill="#8f1f8b" stroke="#741a74" stroke-width="0.6"/>
<rect x="273.60" y="183.70" width="3.45" height="52.10" fill="#f4d3ee" stroke="#c58bc0" stroke-width="0.6"/>
<rect x="277.65" y="181.50" width="3.45" height="54.30" fill="#ebb2e3" stroke="#c47dbc" stroke-width="0.6"/>
<rect x="281.70" y="181.90" width="3.45" height="53.90" fill="#dd8fd3" stroke="#b866b0" stroke-width="0.6"/>
<rect x="285.75" y="183.20" width="3.45" height="52.60" fill="#d868cb" stroke="#b04ab0" stroke-width="0.6"/>
<rect x="289.80" y="184.60" width="3.45" height="51.20" fill="#b93bb2" stroke="#962a94" stroke-width="0.6"/>
<rect x="293.85" y="186.30" width="3.45" height="49.50" fill="#a32aa0" stroke="#85208a" stroke-width="0.6"/>
<rect x="297.90" y="187.20" width="3.45" height="48.60" fill="#8f1f8b" stroke="#741a74" stroke-width="0.6"/>
<rect x="309.80" y="218.60" width="3.40" height="17.20" fill="#f4d3ee" stroke="#c58bc0" stroke-width="0.6"/>
<rect x="313.80" y="210.50" width="3.40" height="25.30" fill="#ebb2e3" stroke="#c47dbc" stroke-width="0.6"/>
<rect x="317.80" y="207.90" width="3.40" height="27.90" fill="#dd8fd3" stroke="#b866b0" stroke-width="0.6"/>
<rect x="321.80" y="207.40" width="3.40" height="28.40" fill="#d868cb" stroke="#b04ab0" stroke-width="0.6"/>
<rect x="325.80" y="207.40" width="3.40" height="28.40" fill="#b93bb2" stroke="#962a94" stroke-width="0.6"/>
<rect x="329.80" y="207.40" width="3.40" height="28.40" fill="#a32aa0" stroke="#85208a" stroke-width="0.6"/>
<rect x="333.80" y="208.70" width="3.40" height="27.10" fill="#8f1f8b" stroke="#741a74" stroke-width="0.6"/>
<rect x="343.90" y="220.80" width="3.35" height="15.00" fill="#f4d3ee" stroke="#c58bc0" stroke-width="0.6"/>
<rect x="347.85" y="213.40" width="3.35" height="22.40" fill="#ebb2e3" stroke="#c47dbc" stroke-width="0.6"/>
<rect x="351.80" y="211.70" width="3.35" height="24.10" fill="#dd8fd3" stroke="#b866b0" stroke-width="0.6"/>
<rect x="355.75" y="211.70" width="3.35" height="24.10" fill="#d868cb" stroke="#b04ab0" stroke-width="0.6"/>
<rect x="359.70" y="211.30" width="3.35" height="24.50" fill="#b93bb2" stroke="#962a94" stroke-width="0.6"/>
<rect x="363.65" y="212.20" width="3.35" height="23.60" fill="#a32aa0" stroke="#85208a" stroke-width="0.6"/>
<rect x="367.60" y="213.10" width="3.35" height="22.70" fill="#8f1f8b" stroke="#741a74" stroke-width="0.6"/>
<text x="251" y="155.2" font-size="9.5" fill="#222" textLength="37.6" lengthAdjust="spacingAndGlyphs">UVPD/<tspan font-style="italic">b,y</tspan></text>
<text x="315.8" y="155.3" font-size="9.5" fill="#222" textLength="50.6" lengthAdjust="spacingAndGlyphs">UVPD/<tspan font-style="italic">a,c,x,z</tspan></text>
<text x="243.7" y="245.6" font-size="7.2" fill="#1e1e1e" stroke="#1e1e1e" stroke-width="0.08" textLength="18.1" lengthAdjust="spacingAndGlyphs">PSMs</text>
<text x="272.3" y="245.6" font-size="7.2" fill="#1e1e1e" stroke="#1e1e1e" stroke-width="0.08" textLength="29.8" lengthAdjust="spacingAndGlyphs">Peptides</text>
<text x="313.8" y="245.6" font-size="7.2" fill="#1e1e1e" stroke="#1e1e1e" stroke-width="0.08" textLength="18.3" lengthAdjust="spacingAndGlyphs">PSMs</text>
<text x="342.6" y="245.6" font-size="7.2" fill="#1e1e1e" stroke="#1e1e1e" stroke-width="0.08" textLength="29.2" lengthAdjust="spacingAndGlyphs">Peptides</text>
<rect x="232.5" y="253.60000000000002" width="6.6" height="6.6" fill="#f4d3ee" stroke="#c58bc0" stroke-width="0.6"/>
<text x="242.5" y="259.7" font-size="6.2" fill="#444" stroke="#444" stroke-width="0.08">2</text>
<rect x="252.3" y="253.60000000000002" width="6.6" height="6.6" fill="#ebb2e3" stroke="#c47dbc" stroke-width="0.6"/>
<text x="262.3" y="259.7" font-size="6.2" fill="#444" stroke="#444" stroke-width="0.08">3</text>
<rect x="272.1" y="253.60000000000002" width="6.6" height="6.6" fill="#dd8fd3" stroke="#b866b0" stroke-width="0.6"/>
<text x="282.1" y="259.7" font-size="6.2" fill="#444" stroke="#444" stroke-width="0.08">4</text>
<rect x="291.90000000000003" y="253.60000000000002" width="6.6" height="6.6" fill="#d868cb" stroke="#b04ab0" stroke-width="0.6"/>
<text x="301.90000000000003" y="259.7" font-size="6.2" fill="#444" stroke="#444" stroke-width="0.08">5</text>
<rect x="311.40000000000003" y="253.60000000000002" width="6.6" height="6.6" fill="#b93bb2" stroke="#962a94" stroke-width="0.6"/>
<text x="321.40000000000003" y="259.7" font-size="6.2" fill="#444" stroke="#444" stroke-width="0.08">6</text>
<rect x="331.2" y="253.60000000000002" width="6.6" height="6.6" fill="#a32aa0" stroke="#85208a" stroke-width="0.6"/>
<text x="341.2" y="259.7" font-size="6.2" fill="#444" stroke="#444" stroke-width="0.08">7</text>
<rect x="351.1" y="253.60000000000002" width="6.6" height="6.6" fill="#8f1f8b" stroke="#741a74" stroke-width="0.6"/>
<text x="361.1" y="259.7" font-size="6.2" fill="#444" stroke="#444" stroke-width="0.08">8 mJ</text>
<text x="382.6" y="138.1" font-size="13" fill="#000" stroke="#000" stroke-width="0.35" font-weight="bold">d</text>
<path d="M421.5,152.5 V235.6" stroke="#555" stroke-width="0.8"/>
<path d="M419.3,235.60 H421.5" stroke="#555" stroke-width="0.7"/>
<text x="417.0" y="237.60" font-size="6.7" fill="#4a4a4a" text-anchor="end">0</text>
<path d="M419.3,225.24 H421.5" stroke="#555" stroke-width="0.7"/>
<text x="417.0" y="227.24" font-size="6.7" fill="#4a4a4a" text-anchor="end">2,000</text>
<path d="M419.3,214.88 H421.5" stroke="#555" stroke-width="0.7"/>
<text x="417.0" y="216.88" font-size="6.7" fill="#4a4a4a" text-anchor="end">4,000</text>
<path d="M419.3,204.52 H421.5" stroke="#555" stroke-width="0.7"/>
<text x="417.0" y="206.52" font-size="6.7" fill="#4a4a4a" text-anchor="end">6,000</text>
<path d="M419.3,194.16 H421.5" stroke="#555" stroke-width="0.7"/>
<text x="417.0" y="196.16" font-size="6.7" fill="#4a4a4a" text-anchor="end">8,000</text>
<path d="M419.3,183.80 H421.5" stroke="#555" stroke-width="0.7"/>
<text x="417.0" y="185.80" font-size="6.7" fill="#4a4a4a" text-anchor="end">10,000</text>
<path d="M419.3,173.44 H421.5" stroke="#555" stroke-width="0.7"/>
<text x="417.0" y="175.44" font-size="6.7" fill="#4a4a4a" text-anchor="end">12,000</text>
<path d="M419.3,163.08 H421.5" stroke="#555" stroke-width="0.7"/>
<text x="417.0" y="165.08" font-size="6.7" fill="#4a4a4a" text-anchor="end">14,000</text>
<path d="M419.3,152.72 H421.5" stroke="#555" stroke-width="0.7"/>
<text x="417.0" y="154.72" font-size="6.7" fill="#4a4a4a" text-anchor="end">16,000</text>
<text transform="translate(390,194.8) rotate(-90)" x="0" y="0" font-size="7.8" fill="#444" text-anchor="middle" textLength="87" lengthAdjust="spacingAndGlyphs">Number of identifications</text>
<rect x="424.40" y="162.70" width="3.95" height="72.90" fill="#dde9f7" stroke="#7ea6d6" stroke-width="0.6"/>
<rect x="428.95" y="161.50" width="3.95" height="74.10" fill="#c3d8f1" stroke="#6f9ad0" stroke-width="0.6"/>
<rect x="433.50" y="165.80" width="3.95" height="69.80" fill="#a8c8ec" stroke="#6692cc" stroke-width="0.6"/>
<rect x="438.05" y="176.20" width="3.95" height="59.40" fill="#8ab5e5" stroke="#5f8cc8" stroke-width="0.6"/>
<rect x="442.60" y="191.60" width="3.95" height="44.00" fill="#78a8df" stroke="#5a86c4" stroke-width="0.6"/>
<rect x="454.00" y="171.60" width="3.85" height="64.00" fill="#dde9f7" stroke="#7ea6d6" stroke-width="0.6"/>
<rect x="458.45" y="171.60" width="3.85" height="64.00" fill="#c3d8f1" stroke="#6f9ad0" stroke-width="0.6"/>
<rect x="462.90" y="176.20" width="3.85" height="59.40" fill="#a8c8ec" stroke="#6692cc" stroke-width="0.6"/>
<rect x="467.35" y="185.40" width="3.85" height="50.20" fill="#8ab5e5" stroke="#5f8cc8" stroke-width="0.6"/>
<rect x="471.80" y="198.90" width="3.85" height="36.70" fill="#78a8df" stroke="#5a86c4" stroke-width="0.6"/>
<rect x="483.70" y="214.80" width="3.95" height="20.80" fill="#dde9f7" stroke="#7ea6d6" stroke-width="0.6"/>
<rect x="488.25" y="197.50" width="3.95" height="38.10" fill="#c3d8f1" stroke="#6f9ad0" stroke-width="0.6"/>
<rect x="492.80" y="195.40" width="3.95" height="40.20" fill="#a8c8ec" stroke="#6692cc" stroke-width="0.6"/>
<rect x="497.35" y="200.50" width="3.95" height="35.10" fill="#8ab5e5" stroke="#5f8cc8" stroke-width="0.6"/>
<rect x="501.90" y="210.60" width="3.95" height="25.00" fill="#78a8df" stroke="#5a86c4" stroke-width="0.6"/>
<rect x="513.10" y="216.70" width="3.90" height="18.90" fill="#dde9f7" stroke="#7ea6d6" stroke-width="0.6"/>
<rect x="517.60" y="202.40" width="3.90" height="33.20" fill="#c3d8f1" stroke="#6f9ad0" stroke-width="0.6"/>
<rect x="522.10" y="200.80" width="3.90" height="34.80" fill="#a8c8ec" stroke="#6692cc" stroke-width="0.6"/>
<rect x="526.60" y="205.20" width="3.90" height="30.40" fill="#8ab5e5" stroke="#5f8cc8" stroke-width="0.6"/>
<rect x="531.10" y="214.30" width="3.90" height="21.30" fill="#78a8df" stroke="#5a86c4" stroke-width="0.6"/>
<path d="M421.1,235.9 H536" stroke="#ddd" stroke-width="0.5"/>
<text x="437.6" y="155.3" font-size="9.5" fill="#222" textLength="28.4" lengthAdjust="spacingAndGlyphs">EID/<tspan font-style="italic">b,y</tspan></text>
<text x="488.4" y="155.1" font-size="9.5" fill="#222" textLength="41.4" lengthAdjust="spacingAndGlyphs">EID/<tspan font-style="italic">a,c,x,z</tspan></text>
<text x="426.5" y="245.6" font-size="7.2" fill="#1e1e1e" stroke="#1e1e1e" stroke-width="0.08" textLength="17.7" lengthAdjust="spacingAndGlyphs">PSMs</text>
<text x="450" y="245.6" font-size="7.2" fill="#1e1e1e" stroke="#1e1e1e" stroke-width="0.08" textLength="29" lengthAdjust="spacingAndGlyphs">Peptides</text>
<text x="485.5" y="245.6" font-size="7.2" fill="#1e1e1e" stroke="#1e1e1e" stroke-width="0.08" textLength="18.2" lengthAdjust="spacingAndGlyphs">PSMs</text>
<text x="509.1" y="245.6" font-size="7.2" fill="#1e1e1e" stroke="#1e1e1e" stroke-width="0.08" textLength="29" lengthAdjust="spacingAndGlyphs">Peptides</text>
<rect x="418.7" y="253.60000000000002" width="6.6" height="6.6" fill="#dde9f7" stroke="#7ea6d6" stroke-width="0.6"/>
<text x="428.7" y="259.7" font-size="6.2" fill="#444" stroke="#444" stroke-width="0.08">25</text>
<rect x="440.40000000000003" y="253.60000000000002" width="6.6" height="6.6" fill="#c3d8f1" stroke="#6f9ad0" stroke-width="0.6"/>
<text x="450.40000000000003" y="259.7" font-size="6.2" fill="#444" stroke="#444" stroke-width="0.08">50</text>
<rect x="463.2" y="253.60000000000002" width="6.6" height="6.6" fill="#a8c8ec" stroke="#6692cc" stroke-width="0.6"/>
<text x="473.2" y="259.7" font-size="6.2" fill="#444" stroke="#444" stroke-width="0.08">75</text>
<rect x="485.40000000000003" y="253.60000000000002" width="6.6" height="6.6" fill="#8ab5e5" stroke="#5f8cc8" stroke-width="0.6"/>
<text x="495.40000000000003" y="259.7" font-size="6.2" fill="#444" stroke="#444" stroke-width="0.08">100</text>
<rect x="510.5" y="253.60000000000002" width="6.6" height="6.6" fill="#78a8df" stroke="#5a86c4" stroke-width="0.6"/>
<text x="520.5" y="259.7" font-size="6.2" fill="#444" stroke="#444" stroke-width="0.08">150 ms</text>
<text x="549.7" y="138.4" font-size="13" fill="#000" stroke="#000" stroke-width="0.35" font-weight="bold">e</text>
<path d="M587.5,158.6 V234.7" stroke="#555" stroke-width="0.8"/>
<path d="M585.3,234.70 H587.5" stroke="#555" stroke-width="0.7"/>
<text x="582.7" y="236.70" font-size="6.7" fill="#4a4a4a" text-anchor="end">0</text>
<path d="M585.3,223.83 H587.5" stroke="#555" stroke-width="0.7"/>
<text x="582.7" y="225.83" font-size="6.7" fill="#4a4a4a" text-anchor="end">1,000</text>
<path d="M585.3,212.96 H587.5" stroke="#555" stroke-width="0.7"/>
<text x="582.7" y="214.96" font-size="6.7" fill="#4a4a4a" text-anchor="end">2,000</text>
<path d="M585.3,202.09 H587.5" stroke="#555" stroke-width="0.7"/>
<text x="582.7" y="204.09" font-size="6.7" fill="#4a4a4a" text-anchor="end">3,000</text>
<path d="M585.3,191.22 H587.5" stroke="#555" stroke-width="0.7"/>
<text x="582.7" y="193.22" font-size="6.7" fill="#4a4a4a" text-anchor="end">4,000</text>
<path d="M585.3,180.35 H587.5" stroke="#555" stroke-width="0.7"/>
<text x="582.7" y="182.35" font-size="6.7" fill="#4a4a4a" text-anchor="end">5,000</text>
<path d="M585.3,169.48 H587.5" stroke="#555" stroke-width="0.7"/>
<text x="582.7" y="171.48" font-size="6.7" fill="#4a4a4a" text-anchor="end">6,000</text>
<path d="M585.3,158.61 H587.5" stroke="#555" stroke-width="0.7"/>
<text x="582.7" y="160.61" font-size="6.7" fill="#4a4a4a" text-anchor="end">7,000</text>
<text transform="translate(557.2,195.1) rotate(-90)" x="0" y="0" font-size="7.8" fill="#444" text-anchor="middle" textLength="87" lengthAdjust="spacingAndGlyphs">Number of identifications</text>
<rect x="593.30" y="188.50" width="5.95" height="46.20" fill="#dcf3d6" stroke="#55c476" stroke-width="0.6"/>
<rect x="600.45" y="173.80" width="5.95" height="60.90" fill="#c1e8b2" stroke="#4fc170" stroke-width="0.6"/>
<rect x="607.60" y="171.40" width="5.95" height="63.30" fill="#aadf98" stroke="#4cbf6c" stroke-width="0.6"/>
<rect x="614.75" y="179.60" width="5.95" height="55.10" fill="#9bda88" stroke="#4abd69" stroke-width="0.6"/>
<rect x="621.90" y="189.40" width="5.95" height="45.30" fill="#86d36f" stroke="#46ba64" stroke-width="0.6"/>
<rect x="639.70" y="193.10" width="5.70" height="41.60" fill="#dcf3d6" stroke="#55c476" stroke-width="0.6"/>
<rect x="646.75" y="181.60" width="5.70" height="53.10" fill="#c1e8b2" stroke="#4fc170" stroke-width="0.6"/>
<rect x="653.80" y="180.50" width="5.70" height="54.20" fill="#aadf98" stroke="#4cbf6c" stroke-width="0.6"/>
<rect x="660.85" y="187.70" width="5.70" height="47.00" fill="#9bda88" stroke="#4abd69" stroke-width="0.6"/>
<rect x="667.90" y="196.30" width="5.70" height="38.40" fill="#86d36f" stroke="#46ba64" stroke-width="0.6"/>
<path d="M587,235 H681" stroke="#ddd" stroke-width="0.5"/>
<text x="617.4" y="155.8" font-size="9.5" fill="#222" textLength="31.6" lengthAdjust="spacingAndGlyphs">ECD/c,z</text>
<text x="601.6" y="245.6" font-size="7.2" fill="#1e1e1e" stroke="#1e1e1e" stroke-width="0.08" textLength="17.7" lengthAdjust="spacingAndGlyphs">PSMs</text>
<text x="642.3" y="245.6" font-size="7.2" fill="#1e1e1e" stroke="#1e1e1e" stroke-width="0.08" textLength="29.7" lengthAdjust="spacingAndGlyphs">Peptides</text>
<rect x="566.4" y="253.60000000000002" width="6.6" height="6.6" fill="#dcf3d6" stroke="#55c476" stroke-width="0.6"/>
<text x="576.4" y="259.7" font-size="6.2" fill="#444" stroke="#444" stroke-width="0.08">15</text>
<rect x="588.1999999999999" y="253.60000000000002" width="6.6" height="6.6" fill="#c1e8b2" stroke="#4fc170" stroke-width="0.6"/>
<text x="598.1999999999999" y="259.7" font-size="6.2" fill="#444" stroke="#444" stroke-width="0.08">25</text>
<rect x="610.0" y="253.60000000000002" width="6.6" height="6.6" fill="#aadf98" stroke="#4cbf6c" stroke-width="0.6"/>
<text x="620.0" y="259.7" font-size="6.2" fill="#444" stroke="#444" stroke-width="0.08">50</text>
<rect x="632.5" y="253.60000000000002" width="6.6" height="6.6" fill="#9bda88" stroke="#4abd69" stroke-width="0.6"/>
<text x="642.5" y="259.7" font-size="6.2" fill="#444" stroke="#444" stroke-width="0.08">75</text>
<rect x="654.5" y="253.60000000000002" width="6.6" height="6.6" fill="#86d36f" stroke="#46ba64" stroke-width="0.6"/>
<text x="664.5" y="259.7" font-size="6.2" fill="#444" stroke="#444" stroke-width="0.08">100 ms</text>
</svg>
</body></html>
